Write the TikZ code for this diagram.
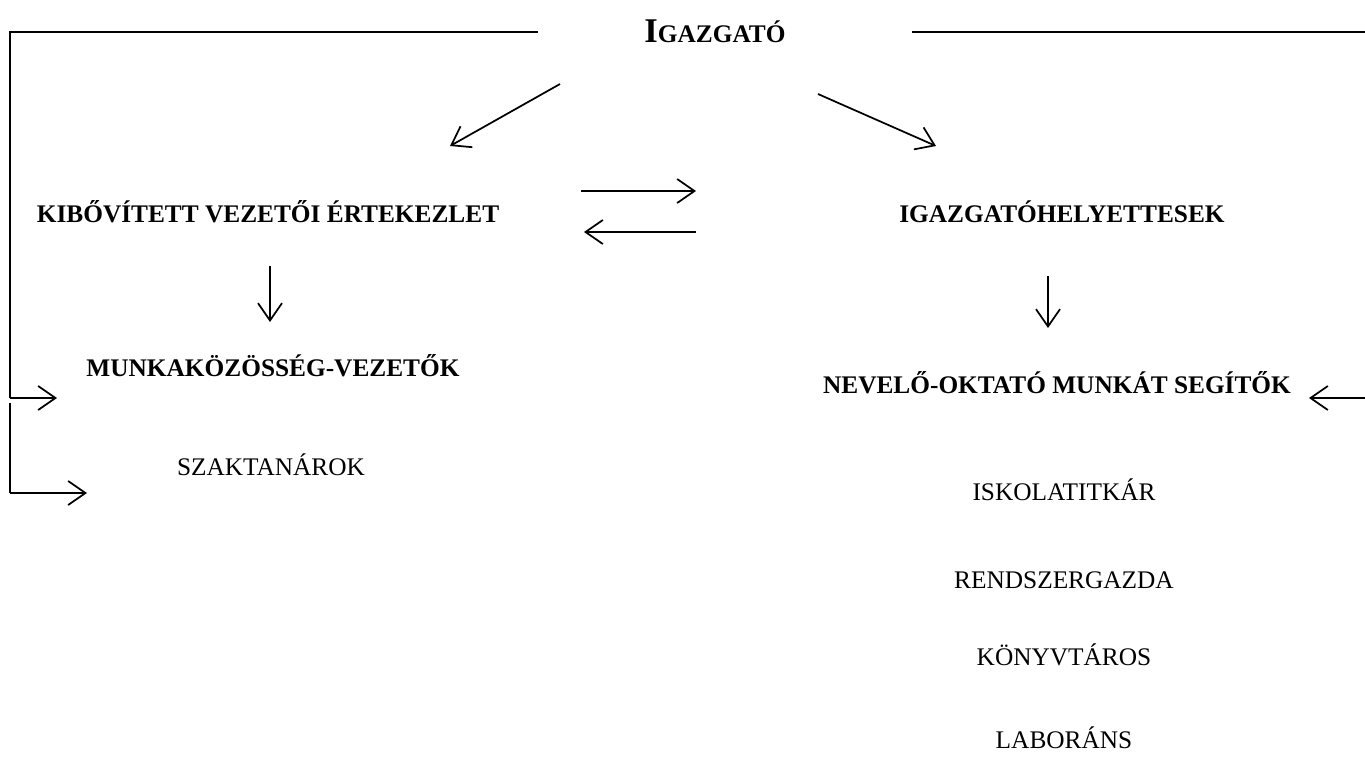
\documentclass[tikz,border=0pt]{standalone}
\usepackage{fontspec}
\setmainfont{Liberation Serif}
\usetikzlibrary{arrows.meta}

\tikzset{
  head/.style={anchor=center,inner sep=0.75pt,font=\fontsize{19}{22}\selectfont\bfseries},
  item/.style={anchor=center,inner sep=0.75pt,font=\fontsize{19}{22}\selectfont},
  link/.style={line width=1.3pt,-{Straight Barb[length=13pt,width=18pt,line width=1.3pt]}},
  frame/.style={line width=1.3pt}
}

\begin{document}
\begin{tikzpicture}[x=0.75pt,y=0.75pt,yscale=-1,xscale=1]
\useasboundingbox (0,0) rectangle (1365,769);

% Text Node
\node[head] (igaz) at (715,31) {\fontsize{26}{28}\selectfont I\fontsize{19}{28}\selectfont GAZGATÓ};
% Text Node
\node[head] (kibov) at (268,212) {KIBŐVÍTETT VEZETŐI ÉRTEKEZLET};
% Text Node
\node[head] (helyet) at (1062,212) {IGAZGATÓHELYETTESEK};
% Text Node
\node[head] (munka) at (273,366) {MUNKAKÖZÖSSÉG-VEZETŐK};
% Text Node
\node[head] (nevelo) at (1057,383) {NEVELŐ-OKTATÓ MUNKÁT SEGÍTŐK};
% Text Node
\node[item] (szak) at (271,465) {SZAKTANÁROK};
% Text Node
\node[item] (titkar) at (1064,490) {ISKOLATITKÁR};
% Text Node
\node[item] (rendsz) at (1064,580) {RENDSZERGAZDA};
% Text Node
\node[item] (konyv) at (1064,655) {KÖNYVTÁROS};
% Text Node
\node[item] (labor) at (1064,738) {LABORÁNS};

%Straight Lines (frame left)
\coordinate (tl) at (10,32);
\coordinate (lm) at (10,398);
\coordinate (ls) at (10,403);
\coordinate (lb) at (10,493);
\draw[frame] (538,32) -- (tl) -- (lm);
\draw[link] (lm) -- (57,398);
\draw[frame] (ls) -- (lb);
\draw[link] (lb) -- (87,493);
%Straight Lines (frame right)
\draw[frame] (912,32) -- (1365,32);
\draw[link] (1365,398) -- (1309,398);

%Arrows
\draw[link] (560,84) -- (450,146);
\draw[link] (818,94) -- (936,146);
\draw[link] (581,191) -- (696,191);
\draw[link] (696,232) -- (584,232);
\draw[link] (270,266) -- (270,322);
\draw[link] (1048,276) -- (1048,328);

\end{tikzpicture}
\end{document}
